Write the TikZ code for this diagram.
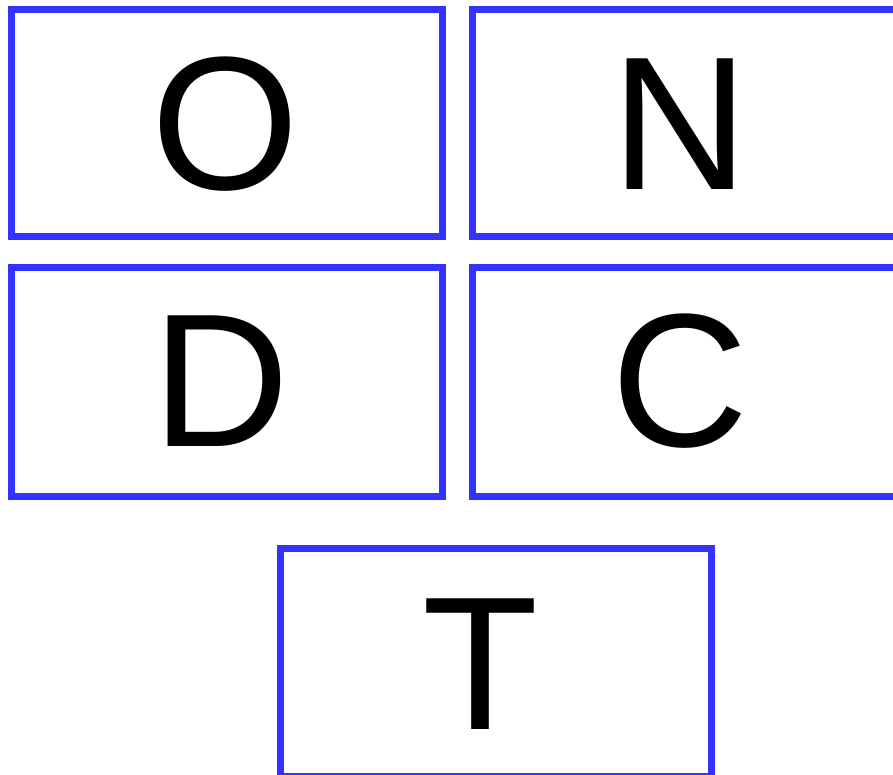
\documentclass[tikz,border=0pt]{standalone}
\usepackage{fontspec}
\setmainfont{Liberation Sans}
\usepackage{xcolor}
\definecolor{cellblue}{RGB}{51,51,255}
\usepackage{tikz}
\usetikzlibrary{positioning}
\tikzset{
  cell/.style={draw=cellblue,line width=7pt,minimum width=431pt,minimum height=227pt,inner sep=0pt},
  letter/.style={inner sep=0pt,font=\fontsize{190}{190}\selectfont,text=black},
}

\begin{document}
\begin{tikzpicture}[x=1pt,y=-1pt]
\useasboundingbox (0,0) rectangle (893,775);
% boxes
\node[cell] (cellO) at (227,123) {};
\node[cell,right=23pt of cellO] (cellN) {};
\node[cell,minimum height=229.5pt] (cellD) at (227,382) {};
\node[cell,minimum height=229.5pt,right=23pt of cellD] (cellC) {};
\node[cell,minimum height=228pt] (cellT) at (496,662) {};
% letters
\node[letter] (txtO) at (225,124) {O};
\node[letter] (txtN) at (680,124) {N};
\node[letter] (txtD) at (221,381) {D};
\node[letter] (txtC) at (680,381) {C};
\node[letter] (txtT) at (481,664) {T};
\end{tikzpicture}
\end{document}
